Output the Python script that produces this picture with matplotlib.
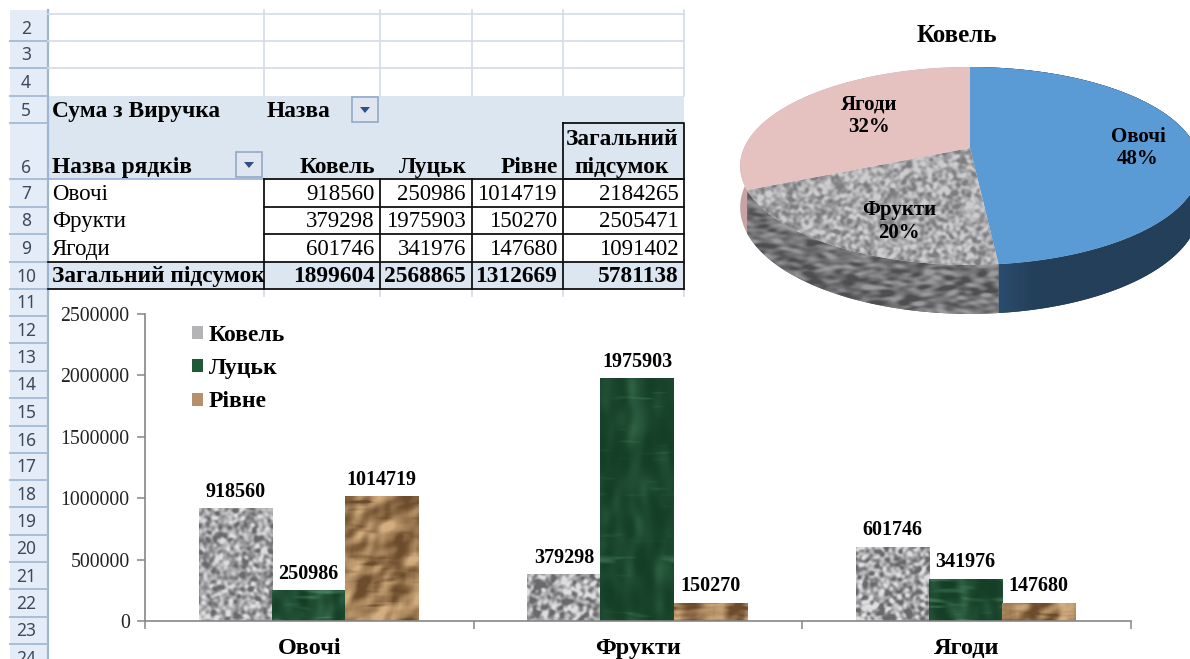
import numpy as np
import matplotlib
matplotlib.use("Agg")
import matplotlib.pyplot as plt
from matplotlib.patches import Polygon, Rectangle, Patch

# table / chart data
categories = ["Овочі", "Фрукти", "Ягоди"]
cities = ["Ковель", "Луцьк", "Рівне"]
kovel = [918560, 379298, 601746]
lutsk = [250986, 1975903, 341976]
rivne = [1014719, 150270, 147680]
row_totals = [2184265, 2505471, 1091402]
col_totals = [1899604, 2568865, 1312669, 5781138]
y_ticks = [0, 500000, 1000000, 1500000, 2000000, 2500000]
row_numbers = list(range(2, 25))

SERIF = "Liberation Serif"
W, H = 1190, 659


def noise(h, w, seed):
    # fixed texture, only for the look of the fills
    yy, xx = np.mgrid[0:h, 0:w].astype(float)
    v = np.sin(xx * 12.9898 + yy * 78.233 + xx * yy * 0.1371 + xx * xx * 0.0713 + yy * yy * 0.0419 + seed) * 43758.5453
    return v - np.floor(v)


def blur(a, rx, ry=None, passes=3):
    ry = rx if ry is None else ry
    for _ in range(passes):
        a = sum(np.roll(a, i, axis=1) for i in range(-rx, rx + 1)) / (2 * rx + 1)
        a = sum(np.roll(a, i, axis=0) for i in range(-ry, ry + 1)) / (2 * ry + 1)
    return a


def norm(a):
    return (a - a.min()) / (a.max() - a.min())


def shear(a, step):
    # slant the streaks of a blurred noise field
    return np.array([np.roll(row, int(i * step)) for i, row in enumerate(a)])


def mix(t, c0, c1):
    c0, c1 = np.array(c0) / 255, np.array(c1) / 255
    return np.clip(c0 + t[..., None] * (c1 - c0), 0, 1)


def granite(h, w, seed, rx=1, ry=1, lo=(105, 105, 108), hi=(222, 222, 224)):
    t = norm(blur(noise(h, w, seed), rx, ry))
    return mix(np.clip((t - 0.25) * 2.0, 0, 1), lo, hi)


def marble(h, w, seed):
    a = norm(blur(noise(h, w, seed), 3, 7))
    s = norm(shear(blur(noise(h, w, seed + 3), 9, 1, passes=2), 0.8))
    return mix(np.clip(a * a * 0.4 + np.clip(s - 0.62, 0, 1) * 1.3, 0, 1), (20, 62, 38), (88, 150, 112))


def paper(h, w, seed):
    a = norm(blur(noise(h, w, seed), 7))
    b = norm(blur(noise(h, w, seed + 5), 3))
    f = a + 0.3 * b
    gy, gx = np.gradient(f)
    e = gx + gy
    t = norm(np.clip(e, *np.percentile(e, [3, 97])))
    s1 = norm(shear(blur(noise(h, w, seed + 9), 10, 1, passes=2), 0.7))
    s2 = norm(shear(blur(noise(h, w, seed + 13), 8, 1, passes=2), -0.5))
    t = t - np.clip(s1 - 0.6, 0, 1) * 1.3 - np.clip(s2 - 0.65, 0, 1) * 1.2
    return mix(np.clip(t, 0, 1), (108, 76, 44), (212, 174, 128))


fig = plt.figure(figsize=(W / 100, H / 100), dpi=100)
ax = fig.add_axes([0, 0, 1, 1])
ax.set_xlim(0, W)
ax.set_ylim(H, 0)
ax.axis("off")

# ---- spreadsheet ----
col_x = [48, 264, 380, 471.5, 562.5, 684]
row_y = [14, 41, 68, 96, 123, 179, 207, 234, 262, 289,
         316, 343, 371, 398, 426, 453, 480, 507, 535, 562, 589, 617, 644, 671]
grid = "#d4dce8"

ax.add_patch(Rectangle((10, 10), 38, 660, fc="#e4ecf7", ec="none"))
ax.plot([47.5, 47.5], [10, 659], color="#9fb6d3", lw=1.6)
for i, n in enumerate(row_numbers):
    y = row_y[i + 1]
    ax.plot([10, 47], [y, y], color="#a9bdd6", lw=1.4)
    yc = 168 if n == 6 else (row_y[i] + y) / 2 + 1
    ax.text(26, yc, str(n), ha="center", va="center", fontsize=12.5, family="Noto Sans", color="#3c4a5c")

for x in col_x[1:]:
    ax.plot([x, x], [10, 96], color=grid, lw=1.2)
    ax.plot([x, x], [289, 296], color=grid, lw=1.2)
for y in row_y[:3]:
    ax.plot([48, 684], [y, y], color=grid, lw=1.2)

ax.add_patch(Rectangle((48, 96), 636, 83, fc="#dce6f1", ec="none"))
ax.add_patch(Rectangle((48, 262), 636, 27, fc="#dce6f1", ec="none"))
ax.plot([48, 264], [179, 179], color="#95b3d7", lw=1.2)

# black borders of the pivot body
for y in row_y[5:10]:
    ax.plot([264, 684], [y, y], color="#111111", lw=1.3)
for x in col_x[1:]:
    ax.plot([x, x], [179, 289], color="#111111", lw=1.3)
ax.plot([48, 264], [262, 262], color="#111111", lw=1.3)
ax.plot([48, 264], [289, 289], color="#111111", lw=1.3)
ax.plot([562.5, 684, 684, 562.5, 562.5], [123, 123, 179, 179, 123], color="#111111", lw=1.3)


def cell(x, y, s, ha="left", bold=False):
    t = ax.text(x, y + 2.5, s, ha=ha, va="center", family=SERIF, fontsize=16.8 if bold else 16.5,
                fontweight="bold" if bold else "normal", color="#000000")
    return t


def button(x0, y0):
    ax.add_patch(Rectangle((x0, y0), 26, 25, fc="#dfe6f0", ec="#93a9c6", lw=1.2))
    ax.add_patch(Polygon([[x0 + 8, y0 + 10], [x0 + 18, y0 + 10], [x0 + 13, y0 + 16]], fc="#2f4f86", ec="none"))


cell(52, 109, "Сума з Виручка", bold=True)
cell(267, 109, "Назва", bold=True)
cell(52, 165, "Назва рядків", bold=True)
button(352, 97)
button(236, 152)
for i, c in enumerate(cities):
    cell(col_x[i + 2] - 5, 165, c, ha="right", bold=True)
cell(622, 137, "Загальний", ha="center", bold=True)
cell(622, 165, "підсумок", ha="center", bold=True)

row_centers = [192, 219, 247]
for i, c in enumerate(categories):
    cell(52, row_centers[i], c)
    for j, v in enumerate([kovel[i], lutsk[i], rivne[i], row_totals[i]]):
        cell(col_x[j + 2] - 5.5, row_centers[i], str(v), ha="right")
tot = cell(52, 274, "Загальний підсумок", bold=True)
tot.set_clip_path(Rectangle((48, 262), 216, 27, transform=ax.transData))
for j, v in enumerate(col_totals):
    cell(col_x[j + 2] - 5.5, 274, str(v), ha="right", bold=True)

# ---- pie ----
PX, PY, A, B, K, DEPTH = 970, 148, 226, 95.7, 0.1818, 40
total = sum(kovel)
frac = np.array(kovel) / total
edges = np.concatenate([[0], np.cumsum(frac)]) * 2 * np.pi


def project(th):
    u, w = np.sin(th), -np.cos(th)
    d = 1 - K * w
    return PX + A * u / d, PY + B * w / d, DEPTH / d


def textured(poly, img=None, zorder=2):
    ax.add_patch(poly)
    if img is not None:
        xy = poly.get_xy()
        im = ax.imshow(img, extent=(xy[:, 0].min(), xy[:, 0].max(), xy[:, 1].max(), xy[:, 1].min()),
                       aspect="auto", zorder=zorder, interpolation="bilinear")
        im.set_clip_path(poly)


top_colors = ["#5b9bd5", None, "#e5c1c0"]
side_colors = ["#243f59", None, "#c8a3a2"]
arcs = []
for i in range(3):
    th = np.linspace(edges[i], edges[i + 1], 120)
    x, y, d = project(th)
    arcs.append((x, y, d))
    side = np.column_stack([np.r_[x, x[::-1]], np.r_[y, (y + d)[::-1]]])
    if i == 0:
        g = np.linspace(0, 1, 200)[None, :].repeat(4, axis=0)
        img = mix(np.clip((0.28 - g) / 0.28, 0, 1), (36, 63, 89), (48, 88, 126))
        textured(Polygon(side, fc=side_colors[i], ec="none", zorder=2), img, zorder=2)
    elif i == 1:
        textured(Polygon(side, fc="#666666", ec="none", zorder=2),
                 granite(125, 250, 7.0, rx=3, ry=1, lo=(78, 78, 80), hi=(155, 155, 158)), zorder=2)
    else:
        textured(Polygon(side, fc=side_colors[i], ec="none", zorder=2))

for i in range(3):
    x, y, d = arcs[i]
    face = np.column_stack([np.r_[PX, x], np.r_[PY, y]])
    if i == 1:
        textured(Polygon(face, fc="#aaaaaa", ec="none", zorder=3),
                 granite(117, 250, 2.0, rx=1, ry=1, lo=(125, 125, 127), hi=(205, 205, 208)), zorder=3)
    else:
        textured(Polygon(face, fc=top_colors[i], ec="none", zorder=3))

ax.text(957, 35, cities[0], ha="center", va="center", family=SERIF, fontweight="bold", fontsize=18)
pie_label_pos = [(1138, 148), (899, 221), (869, 116)]
for i, c in enumerate(categories):
    ax.text(pie_label_pos[i][0], pie_label_pos[i][1], f"{c}\n{100 * frac[i]:.0f}%", ha="center", va="center",
            family=SERIF, fontweight="bold", fontsize=15, linespacing=1.2, zorder=5)

ax.set_xlim(0, W)
ax.set_ylim(H, 0)

# ---- column chart ----
bx = fig.add_axes([145 / W, 1 - 621 / H, (1131 - 145) / W, (621 - 314) / H])
bx.patch.set_alpha(0)
pos = np.arange(len(categories)) + 0.5
bar_w = 1 / 4.5
series = [kovel, lutsk, rivne]
makers = [lambda h, w, s: granite(h, w, s), marble, paper]
fills = ["#b4b4b6", "#1f5a38", "#b6906a"]
for k, vals in enumerate(series):
    bars = bx.bar(pos + (k - 1) * bar_w - 0.003, vals, bar_w, color=fills[k], linewidth=0)
    for n, b in enumerate(bars):
        h_px = max(int(b.get_height() / 2500000 * 307), 4)
        im = bx.imshow(makers[k](h_px, 73, 1.0 + k * 3 + n * 11), aspect="auto", interpolation="bilinear",
                       extent=(b.get_x(), b.get_x() + b.get_width(), 0, b.get_height()), zorder=2)
        im.set_clip_path(b)
        bx.annotate(str(vals[n]), (b.get_x() + b.get_width() / 2, b.get_height()), xytext=(0, 12),
                    textcoords="offset points", ha="center", va="center",
                    family=SERIF, fontweight="bold", fontsize=14.5, zorder=4, annotation_clip=False)

bx.set_xlim(0, 3)
bx.set_ylim(0, 2500000)
for s in ["top", "right"]:
    bx.spines[s].set_visible(False)
for s in ["left", "bottom"]:
    bx.spines[s].set_color("#868686")
    bx.spines[s].set_linewidth(1.2)
bx.set_yticks(y_ticks)
bx.set_yticklabels([str(v) for v in y_ticks], family=SERIF, fontsize=14.2, color="#222222")
bx.set_xticks([0, 1, 2, 3])
bx.set_xticklabels([])
bx.tick_params(axis="both", length=6, width=1.1, color="#868686", pad=5)
for p, c in zip(pos, categories):
    bx.annotate(c, (p, 0), xytext=(0, -20), textcoords="offset points", ha="center", va="center",
                family=SERIF, fontweight="bold", fontsize=17.5, annotation_clip=False)

handles = [Patch(fc=fills[k], ec="none", label=cities[k]) for k in range(3)]
leg = bx.legend(handles=handles, loc="upper left", bbox_to_anchor=(28 / 986, 1.026), frameon=False,
                prop={"family": SERIF, "weight": "bold", "size": 17}, handlelength=0.47, handleheight=0.47,
                handletextpad=0.25, labelspacing=0.52, borderpad=0.3)

fig.savefig("out.png", dpi=100)
